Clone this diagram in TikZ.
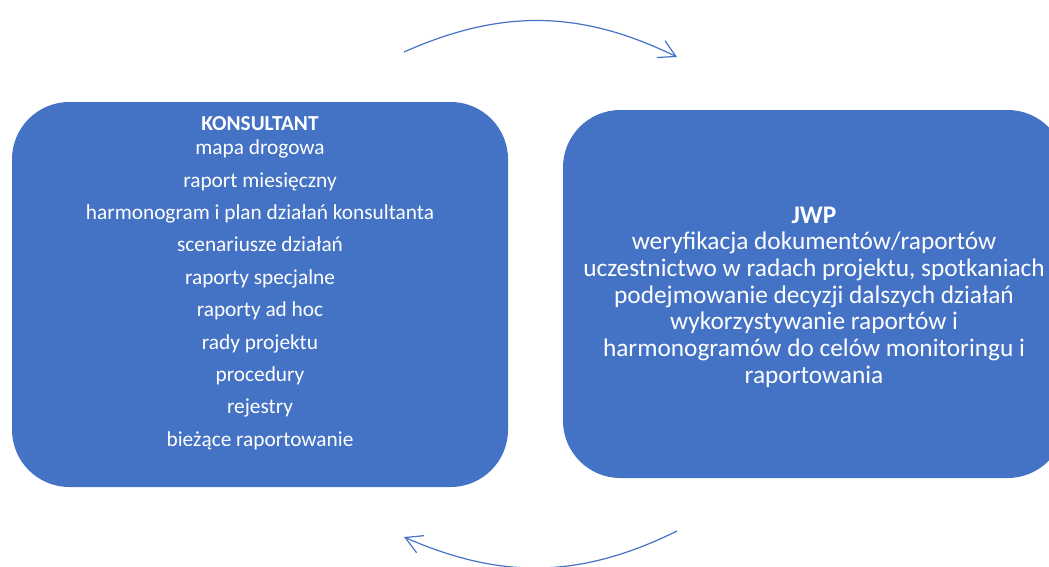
\documentclass[tikz,border=0pt]{standalone}
\usepackage{fontspec}
\setmainfont{Carlito}
\usepackage{xcolor}
\usetikzlibrary{arrows.meta,positioning}
\definecolor{boxblue}{HTML}{4472C4}

\begin{document}
\begin{tikzpicture}[x=0.75pt,y=-0.75pt,
    box/.style={rectangle,rounded corners=43pt,fill=boxblue,inner sep=0pt},
    boxtext/.style={text=white,align=center,inner sep=0pt},
    cycle/.style={draw=boxblue,line width=0.9pt,
      -{Straight Barb[length=12.5pt,width=14pt,line width=0.9pt]}}]
  \useasboundingbox (0,0) rectangle (1049,567);
  \clip (0,0) rectangle (1049,567);

  \node[box,minimum width=372pt,minimum height=288.75pt] (konsultant) at (260,294.5) {};
  \node[box,minimum width=376.5pt,minimum height=276pt] (jwp) at (814,294) {};

  \node[boxtext,anchor=north,font=\fontsize{16pt}{24.3pt}\selectfont] (ktext) at (260,116)
    {\textbf{KONSULTANT}\\[-6pt]
     mapa drogowa\\
     raport miesięczny\\
     harmonogram i plan działań konsultanta\\
     scenariusze działań\\
     raporty specjalne\\
     raporty ad hoc\\
     rady projektu\\
     procedury\\
     rejestry\\
     bieżące raportowanie};
  \node[boxtext,font=\fontsize{19pt}{20pt}\selectfont] (jtext) at (814,297)
    {\textbf{JWP}\\
     weryfikacja dokumentów/raportów\\
     uczestnictwo w radach projektu, spotkaniach\\
     podejmowanie decyzji dalszych działań\\
     wykorzystywanie raportów i\\
     harmonogramów do celów monitoringu i\\
     raportowania};

  % arrows between the two sides
  \coordinate (topstart) at (404,52);
  \coordinate (topend) at (677,57);
  \coordinate (botstart) at (677,531);
  \coordinate (botend) at (404,537);
  \draw[cycle] (topstart) to[bend left=25] (topend);
  \draw[cycle] (botstart) to[bend left=25] (botend);
\end{tikzpicture}
\end{document}
